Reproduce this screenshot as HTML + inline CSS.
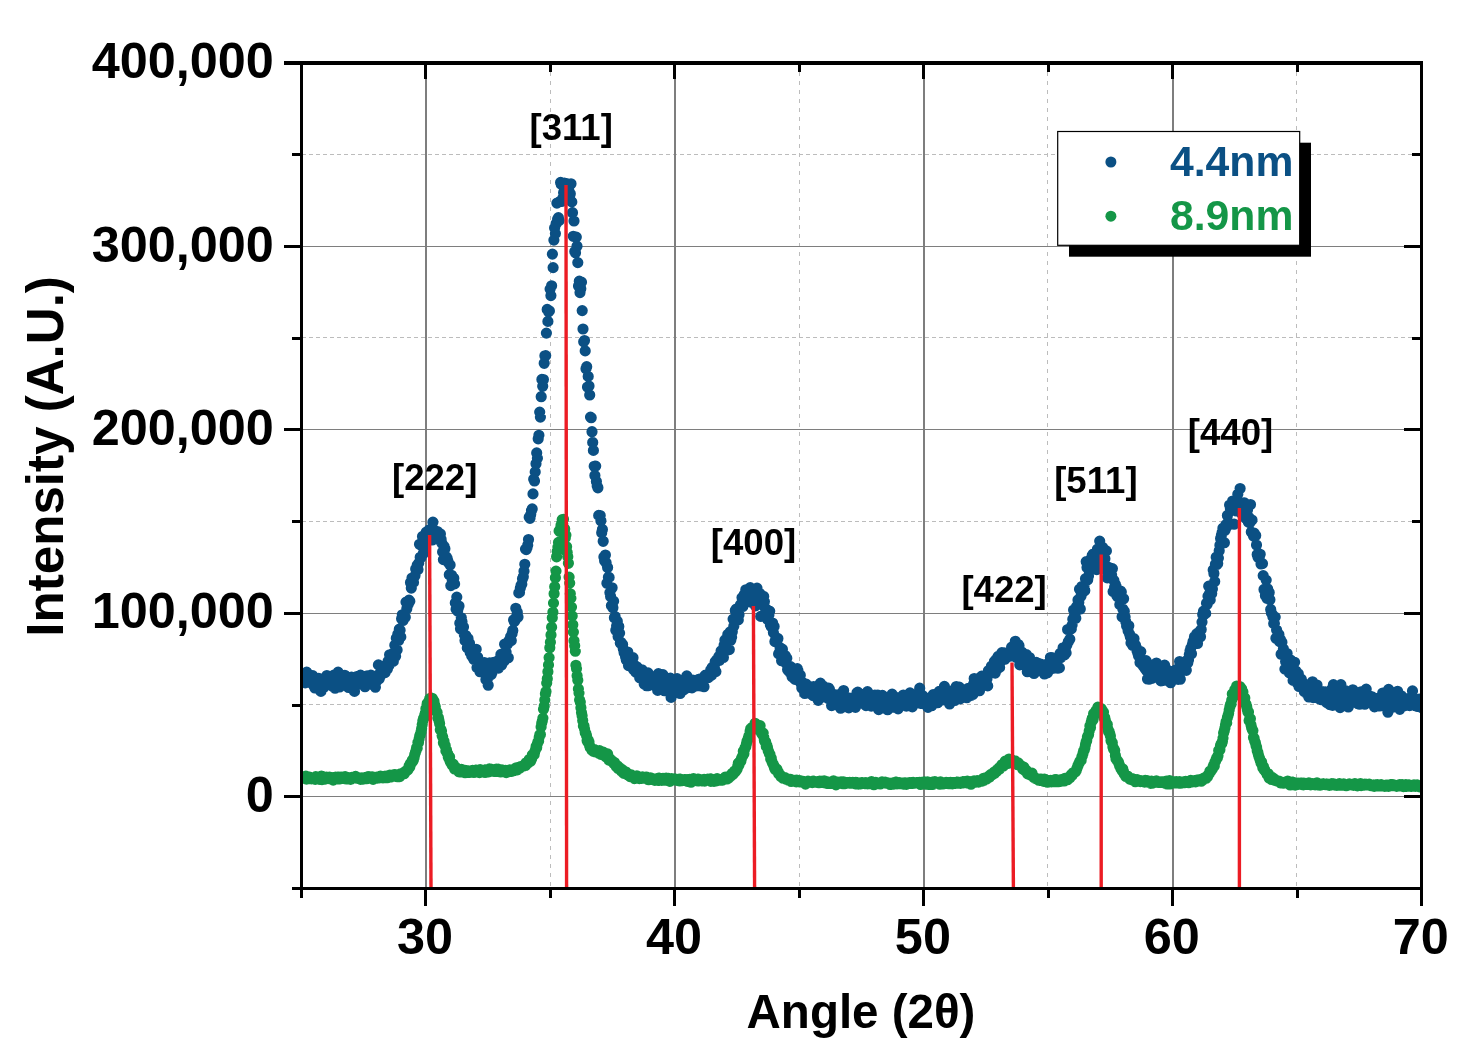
<!DOCTYPE html>
<html lang="en"><head><meta charset="utf-8"><title>XRD pattern</title>
<style>html,body{margin:0;padding:0;background:#fff;overflow:hidden}svg{display:block}</style>
</head><body>
<svg width="1469" height="1052" viewBox="0 0 1469 1052" font-family="'Liberation Sans', sans-serif" font-weight="bold">
<rect width="1469" height="1052" fill="#fff"/>
<defs><clipPath id="plot"><rect x="301.5" y="63.0" width="1121.0" height="825.5"/></clipPath></defs>
<g stroke="#bcbcbc" stroke-width="1" fill="none" shape-rendering="crispEdges">
<path stroke-dasharray="4 5" d="M550.5 63.0V888.5"/>
<path stroke-dasharray="4 5" d="M799.5 63.0V888.5"/>
<path stroke-dasharray="4 5" d="M1047.5 63.0V888.5"/>
<path stroke-dasharray="4 5" d="M1296.5 63.0V888.5"/>
<path stroke-dasharray="4 3" d="M301.5 704.5H1421.5"/>
<path stroke-dasharray="4 3" d="M301.5 521.5H1421.5"/>
<path stroke-dasharray="4 3" d="M301.5 337.5H1421.5"/>
<path stroke-dasharray="4 3" d="M301.5 154.5H1421.5"/>
</g>
<g stroke="#7e7e7e" fill="none" shape-rendering="crispEdges">
<path stroke-width="2" d="M426 63.0V888.5"/>
<path stroke-width="2" d="M675 63.0V888.5"/>
<path stroke-width="2" d="M924 63.0V888.5"/>
<path stroke-width="2" d="M1173 63.0V888.5"/>
<path stroke-width="1" d="M301.5 796.5H1421.5"/>
<path stroke-width="1" d="M301.5 613.5H1421.5"/>
<path stroke-width="1" d="M301.5 429.5H1421.5"/>
<path stroke-width="1" d="M301.5 246.5H1421.5"/>
</g>
<g fill="#000" shape-rendering="crispEdges">
<rect x="300" y="888.5" width="3" height="9.5"/>
<rect x="424" y="888.5" width="3" height="17.5"/>
<rect x="424" y="63.0" width="3" height="16.0"/>
<rect x="549" y="888.5" width="3" height="9.0"/>
<rect x="549" y="63.0" width="3" height="9.0"/>
<rect x="673" y="888.5" width="3" height="17.5"/>
<rect x="673" y="63.0" width="3" height="16.0"/>
<rect x="798" y="888.5" width="3" height="9.0"/>
<rect x="798" y="63.0" width="3" height="9.0"/>
<rect x="922" y="888.5" width="3" height="17.5"/>
<rect x="922" y="63.0" width="3" height="16.0"/>
<rect x="1047" y="888.5" width="3" height="9.0"/>
<rect x="1047" y="63.0" width="3" height="9.0"/>
<rect x="1171" y="888.5" width="3" height="17.5"/>
<rect x="1171" y="63.0" width="3" height="16.0"/>
<rect x="1296" y="888.5" width="3" height="9.0"/>
<rect x="1296" y="63.0" width="3" height="9.0"/>
<rect x="1420" y="888.5" width="3" height="17.5"/>
<rect x="292.0" y="887" width="9.5" height="3"/>
<rect x="284.0" y="795" width="17.5" height="3"/>
<rect x="1404.0" y="795" width="17.5" height="3"/>
<rect x="292.0" y="704" width="9.5" height="3"/>
<rect x="1412.0" y="704" width="9.5" height="3"/>
<rect x="284.0" y="612" width="17.5" height="3"/>
<rect x="1404.0" y="612" width="17.5" height="3"/>
<rect x="292.0" y="520" width="9.5" height="3"/>
<rect x="1412.0" y="520" width="9.5" height="3"/>
<rect x="284.0" y="428" width="17.5" height="3"/>
<rect x="1404.0" y="428" width="17.5" height="3"/>
<rect x="292.0" y="337" width="9.5" height="3"/>
<rect x="1412.0" y="337" width="9.5" height="3"/>
<rect x="284.0" y="245" width="17.5" height="3"/>
<rect x="1404.0" y="245" width="17.5" height="3"/>
<rect x="292.0" y="153" width="9.5" height="3"/>
<rect x="1412.0" y="153" width="9.5" height="3"/>
<rect x="284.0" y="61" width="17.5" height="4"/>
</g>
<g clip-path="url(#plot)" fill="none" stroke-linecap="round">
<path stroke="#0B5084" stroke-width="11.2" d="M301.5 677.7h0M302.2 676.4h0M303.0 679.2h0M303.7 682.1h0M304.5 680.2h0M305.2 682.8h0M306.0 677.9h0M306.7 672.1h0M307.5 680.7h0M308.2 681.4h0M309.0 676.3h0M309.7 677.0h0M310.5 678.2h0M311.2 683.1h0M312.0 679.0h0M312.7 675.7h0M313.4 685.3h0M314.2 681.2h0M314.9 688.0h0M315.7 685.2h0M316.4 687.9h0M317.2 680.5h0M317.9 685.4h0M318.7 678.3h0M319.4 678.9h0M320.2 680.6h0M320.9 691.4h0M321.7 682.3h0M322.4 680.2h0M323.2 679.5h0M323.9 687.2h0M324.6 682.4h0M325.4 684.7h0M326.1 684.0h0M326.9 675.5h0M327.6 684.2h0M328.4 680.7h0M329.1 676.5h0M329.9 683.3h0M330.6 681.2h0M331.4 680.3h0M332.1 680.6h0M332.9 686.6h0M333.6 680.6h0M334.4 674.8h0M335.1 688.2h0M335.8 677.2h0M336.6 680.7h0M337.3 684.3h0M338.1 672.2h0M338.8 677.9h0M339.6 687.0h0M340.3 681.2h0M341.1 678.9h0M341.8 682.5h0M342.6 678.6h0M343.3 682.1h0M344.1 678.8h0M344.8 675.3h0M345.6 685.0h0M346.3 681.0h0M347.0 684.1h0M347.8 681.5h0M348.5 687.5h0M349.3 684.8h0M350.0 683.1h0M350.8 678.1h0M351.5 677.0h0M352.3 688.3h0M353.0 685.9h0M353.8 679.3h0M354.5 691.4h0M355.3 684.4h0M356.0 682.7h0M356.8 676.5h0M357.5 679.1h0M358.2 683.7h0M359.0 683.9h0M359.7 683.3h0M360.5 675.1h0M361.2 684.0h0M362.0 683.4h0M362.7 680.3h0M363.5 682.4h0M364.2 682.6h0M365.0 686.7h0M365.7 681.5h0M366.5 683.4h0M367.2 675.8h0M368.0 677.9h0M368.7 680.9h0M369.4 677.4h0M370.2 681.8h0M370.9 675.1h0M371.7 679.7h0M372.4 676.6h0M373.2 685.0h0M373.9 677.0h0M374.7 686.0h0M375.4 687.2h0M376.2 678.6h0M376.9 680.9h0M377.7 675.3h0M378.4 664.9h0M379.2 678.7h0M379.9 677.0h0M380.6 672.3h0M381.4 670.1h0M382.1 672.5h0M382.9 671.7h0M383.6 666.3h0M384.4 666.2h0M385.1 672.6h0M385.9 666.8h0M386.6 665.0h0M387.4 669.1h0M388.1 661.3h0M388.9 665.4h0M389.6 654.8h0M390.4 657.1h0M391.1 656.0h0M391.8 657.7h0M392.6 653.5h0M393.3 661.4h0M394.1 655.0h0M394.8 645.2h0M395.6 656.2h0M396.3 638.3h0M397.1 649.9h0M397.8 634.2h0M398.6 640.5h0M399.3 629.2h0M400.1 630.2h0M400.8 636.9h0M401.6 618.7h0M402.3 614.8h0M403.0 620.5h0M403.8 618.9h0M404.5 615.4h0M405.3 617.2h0M406.0 602.1h0M406.8 608.8h0M407.5 602.9h0M408.3 604.3h0M409.0 600.2h0M409.8 601.2h0M410.5 582.5h0M411.3 588.1h0M412.0 578.0h0M412.8 580.9h0M413.5 582.4h0M414.2 577.0h0M415.0 575.6h0M415.7 569.0h0M416.5 568.6h0M417.2 565.3h0M418.0 569.6h0M418.7 563.2h0M419.5 544.3h0M420.2 557.3h0M421.0 557.5h0M421.7 545.8h0M422.5 536.4h0M423.2 553.8h0M424.0 543.4h0M424.7 544.6h0M425.4 550.7h0M426.2 532.1h0M426.9 536.0h0M427.7 534.2h0M428.4 539.0h0M429.2 529.8h0M429.9 536.0h0M430.7 532.8h0M431.4 539.3h0M432.2 540.0h0M432.9 522.2h0M433.7 535.4h0M434.4 530.3h0M435.2 533.1h0M435.9 536.8h0M436.6 538.2h0M437.4 531.5h0M438.1 539.2h0M438.9 539.6h0M439.6 540.1h0M440.4 533.9h0M441.1 539.2h0M441.9 543.3h0M442.6 551.9h0M443.4 559.6h0M444.1 546.4h0M444.9 548.8h0M445.6 558.7h0M446.4 556.9h0M447.1 558.1h0M447.8 560.6h0M448.6 562.9h0M449.3 574.7h0M450.1 565.0h0M450.8 585.6h0M451.6 575.3h0M452.3 580.7h0M453.1 581.4h0M453.8 578.3h0M454.6 583.9h0M455.3 602.9h0M456.1 609.2h0M456.8 597.1h0M457.6 611.0h0M458.3 608.0h0M459.0 606.0h0M459.8 623.3h0M460.5 628.7h0M461.3 617.8h0M462.0 621.8h0M462.8 626.1h0M463.5 627.0h0M464.3 634.5h0M465.0 640.5h0M465.8 635.5h0M466.5 642.1h0M467.3 647.9h0M468.0 638.5h0M468.8 643.6h0M469.5 643.1h0M470.2 652.4h0M471.0 652.4h0M471.7 655.9h0M472.5 657.0h0M473.2 653.0h0M474.0 659.5h0M474.7 655.1h0M475.5 656.5h0M476.2 649.3h0M477.0 667.6h0M477.7 657.3h0M478.5 663.2h0M479.2 663.8h0M480.0 671.7h0M480.7 667.6h0M481.4 662.4h0M482.2 667.1h0M482.9 666.9h0M483.7 669.2h0M484.4 662.6h0M485.2 668.7h0M485.9 679.6h0M486.7 672.5h0M487.4 678.9h0M488.2 685.2h0M488.9 672.0h0M489.7 662.8h0M490.4 668.9h0M491.2 674.6h0M491.9 673.1h0M492.6 662.7h0M493.4 667.0h0M494.1 667.1h0M494.9 667.0h0M495.6 665.9h0M496.4 661.5h0M497.1 661.9h0M497.9 662.8h0M498.6 668.1h0M499.4 659.5h0M500.1 664.4h0M500.9 654.4h0M501.6 665.0h0M502.4 658.1h0M503.1 656.1h0M503.8 661.4h0M504.6 644.2h0M505.3 643.9h0M506.1 652.1h0M506.8 643.9h0M507.6 644.0h0M508.3 657.8h0M509.1 640.5h0M509.8 639.9h0M510.6 636.8h0M511.3 640.6h0M512.1 633.6h0M512.8 630.4h0M513.6 619.9h0M514.3 621.6h0M515.0 620.4h0M515.8 608.3h0M516.5 616.8h0M517.3 612.3h0M518.0 617.0h0M518.8 592.9h0M519.5 592.4h0M520.3 588.3h0M521.0 585.4h0M521.8 584.2h0M522.5 578.7h0M523.3 576.7h0M524.0 571.3h0M524.8 564.3h0M525.5 549.1h0M526.2 549.6h0M527.0 547.8h0M527.7 545.3h0M528.5 539.5h0M529.2 517.3h0M530.0 518.3h0M530.7 514.6h0M531.5 510.5h0M532.2 508.9h0M533.0 493.9h0M533.7 479.2h0M534.5 481.0h0M535.2 471.9h0M536.0 463.8h0M536.7 452.9h0M537.4 458.2h0M538.2 438.8h0M538.9 435.3h0M539.7 412.1h0M540.4 417.1h0M541.2 396.7h0M541.9 379.4h0M542.7 386.2h0M543.4 379.5h0M544.2 363.3h0M544.9 355.8h0M545.7 355.6h0M546.4 333.1h0M547.2 309.4h0M547.9 321.4h0M548.6 311.8h0M549.4 310.9h0M550.1 289.1h0M550.9 295.6h0M551.6 285.8h0M552.4 254.1h0M553.1 267.6h0M553.9 240.1h0M554.6 228.0h0M555.4 233.6h0M556.1 223.8h0M556.9 203.1h0M557.6 219.1h0M558.4 217.7h0M559.1 220.6h0M559.8 201.5h0M560.6 182.4h0M561.3 184.4h0M562.1 201.4h0M562.8 198.2h0M563.6 192.8h0M564.3 183.2h0M565.1 188.0h0M565.8 183.6h0M566.6 183.5h0M567.3 191.1h0M568.1 190.3h0M568.8 190.2h0M569.6 196.3h0M570.3 193.8h0M571.0 183.8h0M571.8 201.9h0M572.5 212.7h0M573.3 236.3h0M574.0 221.0h0M574.8 251.4h0M575.5 252.7h0M576.3 237.1h0M577.0 246.2h0M577.8 262.6h0M578.5 286.0h0M579.3 281.2h0M580.0 292.6h0M580.8 288.7h0M581.5 282.2h0M582.2 310.6h0M583.0 329.0h0M583.7 341.7h0M584.5 340.5h0M585.2 350.9h0M586.0 368.8h0M586.7 366.7h0M587.5 387.0h0M588.2 376.4h0M589.0 386.0h0M589.7 395.0h0M590.5 417.1h0M591.2 417.7h0M592.0 431.7h0M592.7 442.4h0M593.4 450.4h0M594.2 466.3h0M594.9 475.5h0M595.7 466.1h0M596.4 481.5h0M597.2 486.1h0M597.9 487.8h0M598.7 515.4h0M599.4 515.5h0M600.2 515.5h0M600.9 520.8h0M601.7 532.8h0M602.4 529.4h0M603.2 541.3h0M603.9 557.0h0M604.6 560.8h0M605.4 555.0h0M606.1 562.7h0M606.9 583.2h0M607.6 567.5h0M608.4 577.2h0M609.1 577.4h0M609.9 592.6h0M610.6 596.5h0M611.4 605.6h0M612.1 587.8h0M612.9 607.8h0M613.6 601.2h0M614.4 617.8h0M615.1 616.5h0M615.8 630.2h0M616.6 626.0h0M617.3 621.3h0M618.1 636.6h0M618.8 626.5h0M619.6 633.1h0M620.3 643.1h0M621.1 642.5h0M621.8 644.5h0M622.6 644.4h0M623.3 649.0h0M624.1 652.5h0M624.8 651.6h0M625.6 657.0h0M626.3 660.0h0M627.0 655.2h0M627.8 652.0h0M628.5 665.6h0M629.3 659.2h0M630.0 663.8h0M630.8 666.6h0M631.5 658.7h0M632.3 666.6h0M633.0 657.7h0M633.8 669.9h0M634.5 665.1h0M635.3 669.0h0M636.0 672.4h0M636.8 666.8h0M637.5 671.1h0M638.2 668.2h0M639.0 672.0h0M639.7 677.7h0M640.5 673.6h0M641.2 673.5h0M642.0 669.8h0M642.7 679.2h0M643.5 675.6h0M644.2 684.0h0M645.0 673.3h0M645.7 681.9h0M646.5 685.7h0M647.2 678.0h0M648.0 672.9h0M648.7 685.6h0M649.4 683.9h0M650.2 682.6h0M650.9 684.8h0M651.7 678.1h0M652.4 683.9h0M653.2 683.8h0M653.9 678.0h0M654.7 684.5h0M655.4 679.3h0M656.2 686.0h0M656.9 687.3h0M657.7 690.4h0M658.4 673.7h0M659.2 683.9h0M659.9 681.5h0M660.6 682.9h0M661.4 682.2h0M662.1 682.9h0M662.9 674.6h0M663.6 688.2h0M664.4 690.7h0M665.1 688.4h0M665.9 690.0h0M666.6 680.6h0M667.4 680.4h0M668.1 688.6h0M668.9 690.7h0M669.6 686.0h0M670.4 678.2h0M671.1 697.4h0M671.8 682.3h0M672.6 689.6h0M673.3 680.1h0M674.1 689.7h0M674.8 686.2h0M675.6 691.7h0M676.3 689.4h0M677.1 678.7h0M677.8 681.2h0M678.6 686.8h0M679.3 688.9h0M680.1 693.5h0M680.8 686.7h0M681.6 685.0h0M682.3 685.2h0M683.0 685.2h0M683.8 689.8h0M684.5 684.9h0M685.3 684.7h0M686.0 678.6h0M686.8 675.9h0M687.5 684.8h0M688.3 687.6h0M689.0 684.2h0M689.8 686.5h0M690.5 687.0h0M691.3 683.6h0M692.0 687.9h0M692.8 680.2h0M693.5 683.2h0M694.2 681.3h0M695.0 683.0h0M695.7 685.2h0M696.5 685.9h0M697.2 682.3h0M698.0 683.3h0M698.7 679.3h0M699.5 680.0h0M700.2 685.9h0M701.0 678.8h0M701.7 684.9h0M702.5 681.0h0M703.2 679.0h0M704.0 686.7h0M704.7 676.0h0M705.4 675.1h0M706.2 675.9h0M706.9 676.4h0M707.7 675.5h0M708.4 677.6h0M709.2 673.5h0M709.9 674.0h0M710.7 670.0h0M711.4 675.4h0M712.2 667.5h0M712.9 666.9h0M713.7 667.3h0M714.4 667.7h0M715.2 661.7h0M715.9 671.6h0M716.6 659.9h0M717.4 659.7h0M718.1 658.2h0M718.9 656.4h0M719.6 660.3h0M720.4 656.9h0M721.1 650.9h0M721.9 650.5h0M722.6 650.1h0M723.4 657.5h0M724.1 645.2h0M724.9 640.2h0M725.6 639.4h0M726.4 641.7h0M727.1 649.6h0M727.8 634.4h0M728.6 638.4h0M729.3 649.6h0M730.1 631.9h0M730.8 640.2h0M731.6 637.3h0M732.3 631.7h0M733.1 619.1h0M733.8 626.3h0M734.6 620.7h0M735.3 610.4h0M736.1 609.2h0M736.8 617.0h0M737.6 615.8h0M738.3 619.9h0M739.0 614.7h0M739.8 606.3h0M740.5 604.6h0M741.3 604.6h0M742.0 597.6h0M742.8 606.5h0M743.5 600.7h0M744.3 594.5h0M745.0 594.0h0M745.8 589.8h0M746.5 592.7h0M747.3 596.0h0M748.0 591.0h0M748.8 598.6h0M749.5 601.8h0M750.2 587.7h0M751.0 591.3h0M751.7 588.9h0M752.5 601.2h0M753.2 593.1h0M754.0 594.8h0M754.7 596.8h0M755.5 605.9h0M756.2 594.9h0M757.0 588.2h0M757.7 592.3h0M758.5 599.4h0M759.2 597.1h0M760.0 593.8h0M760.7 616.4h0M761.4 602.1h0M762.2 599.7h0M762.9 600.6h0M763.7 596.4h0M764.4 601.6h0M765.2 608.3h0M765.9 610.4h0M766.7 609.5h0M767.4 619.2h0M768.2 618.3h0M768.9 615.0h0M769.7 611.1h0M770.4 625.1h0M771.2 626.6h0M771.9 627.3h0M772.6 623.0h0M773.4 632.6h0M774.1 626.4h0M774.9 641.6h0M775.6 639.4h0M776.4 641.4h0M777.1 638.0h0M777.9 638.5h0M778.6 653.9h0M779.4 652.5h0M780.1 647.7h0M780.9 654.6h0M781.6 660.7h0M782.4 649.2h0M783.1 653.7h0M783.8 655.2h0M784.6 661.7h0M785.3 655.6h0M786.1 663.4h0M786.8 658.2h0M787.6 669.4h0M788.3 670.5h0M789.1 666.6h0M789.8 672.2h0M790.6 666.7h0M791.3 669.9h0M792.1 676.7h0M792.8 673.0h0M793.6 676.1h0M794.3 671.1h0M795.0 679.4h0M795.8 679.4h0M796.5 672.6h0M797.3 668.7h0M798.0 670.7h0M798.8 680.4h0M799.5 680.5h0M800.3 675.2h0M801.0 683.5h0M801.8 688.1h0M802.5 683.8h0M803.3 682.9h0M804.0 689.3h0M804.8 693.5h0M805.5 693.1h0M806.2 684.2h0M807.0 691.1h0M807.7 688.8h0M808.5 687.7h0M809.2 686.4h0M810.0 691.0h0M810.7 687.8h0M811.5 694.3h0M812.2 692.4h0M813.0 695.6h0M813.7 686.5h0M814.5 691.9h0M815.2 695.4h0M816.0 694.0h0M816.7 693.7h0M817.4 690.0h0M818.2 700.3h0M818.9 698.1h0M819.7 695.5h0M820.4 683.1h0M821.2 690.2h0M821.9 695.0h0M822.7 691.7h0M823.4 686.1h0M824.2 696.2h0M824.9 697.0h0M825.7 690.4h0M826.4 693.6h0M827.2 693.1h0M827.9 698.3h0M828.6 688.0h0M829.4 689.1h0M830.1 694.2h0M830.9 693.8h0M831.6 705.6h0M832.4 694.3h0M833.1 698.0h0M833.9 695.5h0M834.6 694.6h0M835.4 699.1h0M836.1 704.9h0M836.9 696.3h0M837.6 701.1h0M838.4 699.5h0M839.1 700.8h0M839.8 699.8h0M840.6 708.2h0M841.3 693.4h0M842.1 697.6h0M842.8 694.0h0M843.6 690.5h0M844.3 698.8h0M845.1 706.7h0M845.8 702.9h0M846.6 704.3h0M847.3 701.4h0M848.1 699.1h0M848.8 707.9h0M849.6 698.1h0M850.3 706.0h0M851.0 698.5h0M851.8 700.3h0M852.5 701.2h0M853.3 700.3h0M854.0 702.3h0M854.8 702.7h0M855.5 707.3h0M856.3 700.4h0M857.0 692.6h0M857.8 692.1h0M858.5 694.9h0M859.3 697.6h0M860.0 703.4h0M860.8 694.6h0M861.5 700.9h0M862.2 701.1h0M863.0 702.0h0M863.7 700.5h0M864.5 702.8h0M865.2 701.3h0M866.0 705.6h0M866.7 702.7h0M867.5 691.6h0M868.2 701.5h0M869.0 702.3h0M869.7 699.1h0M870.5 698.4h0M871.2 706.1h0M872.0 702.3h0M872.7 697.7h0M873.4 700.4h0M874.2 701.1h0M874.9 695.1h0M875.7 704.4h0M876.4 701.2h0M877.2 703.7h0M877.9 695.2h0M878.7 709.6h0M879.4 704.2h0M880.2 703.6h0M880.9 698.6h0M881.7 698.8h0M882.4 695.4h0M883.2 707.8h0M883.9 698.1h0M884.6 702.4h0M885.4 703.9h0M886.1 698.9h0M886.9 704.9h0M887.6 709.7h0M888.4 702.6h0M889.1 707.2h0M889.9 703.7h0M890.6 699.3h0M891.4 699.5h0M892.1 694.2h0M892.9 701.6h0M893.6 707.2h0M894.4 703.9h0M895.1 704.5h0M895.8 705.7h0M896.6 698.8h0M897.3 703.2h0M898.1 708.8h0M898.8 697.5h0M899.6 700.9h0M900.3 698.9h0M901.1 699.9h0M901.8 697.6h0M902.6 700.1h0M903.3 695.0h0M904.1 698.4h0M904.8 698.4h0M905.6 698.3h0M906.3 706.1h0M907.0 700.7h0M907.8 701.0h0M908.5 699.0h0M909.3 705.5h0M910.0 692.9h0M910.8 699.3h0M911.5 704.8h0M912.3 706.8h0M913.0 700.8h0M913.8 699.9h0M914.5 702.5h0M915.3 699.0h0M916.0 702.1h0M916.8 697.0h0M917.5 702.3h0M918.2 699.4h0M919.0 695.0h0M919.7 688.2h0M920.5 703.3h0M921.2 701.0h0M922.0 702.5h0M922.7 695.6h0M923.5 703.7h0M924.2 700.8h0M925.0 698.8h0M925.7 702.8h0M926.5 702.7h0M927.2 700.6h0M928.0 707.4h0M928.7 704.6h0M929.4 700.1h0M930.2 697.7h0M930.9 699.0h0M931.7 705.7h0M932.4 700.1h0M933.2 694.7h0M933.9 695.6h0M934.7 698.3h0M935.4 701.7h0M936.2 695.1h0M936.9 700.2h0M937.7 702.7h0M938.4 701.1h0M939.2 691.4h0M939.9 696.6h0M940.6 692.5h0M941.4 699.4h0M942.1 693.3h0M942.9 699.8h0M943.6 697.8h0M944.4 686.4h0M945.1 693.7h0M945.9 699.1h0M946.6 697.2h0M947.4 695.4h0M948.1 691.5h0M948.9 698.7h0M949.6 704.0h0M950.4 697.6h0M951.1 696.3h0M951.8 695.8h0M952.6 690.5h0M953.3 694.7h0M954.1 692.4h0M954.8 700.5h0M955.6 691.9h0M956.3 686.5h0M957.1 692.1h0M957.8 694.2h0M958.6 694.4h0M959.3 687.2h0M960.1 698.8h0M960.8 695.1h0M961.6 692.4h0M962.3 691.0h0M963.0 695.9h0M963.8 692.4h0M964.5 694.7h0M965.3 692.7h0M966.0 693.6h0M966.8 697.7h0M967.5 692.5h0M968.3 688.3h0M969.0 696.0h0M969.8 692.5h0M970.5 688.1h0M971.3 695.4h0M972.0 689.4h0M972.8 694.5h0M973.5 684.3h0M974.2 678.5h0M975.0 679.3h0M975.7 688.8h0M976.5 683.9h0M977.2 686.1h0M978.0 685.6h0M978.7 678.4h0M979.5 690.7h0M980.2 679.2h0M981.0 683.6h0M981.7 676.1h0M982.5 681.0h0M983.2 684.1h0M984.0 678.9h0M984.7 676.0h0M985.4 678.4h0M986.2 675.4h0M986.9 679.2h0M987.7 685.9h0M988.4 670.7h0M989.2 670.7h0M989.9 672.4h0M990.7 671.8h0M991.4 666.2h0M992.2 672.4h0M992.9 672.6h0M993.7 669.2h0M994.4 661.5h0M995.2 673.1h0M995.9 659.6h0M996.6 667.6h0M997.4 669.0h0M998.1 656.4h0M998.9 662.3h0M999.6 667.4h0M1000.4 661.9h0M1001.1 654.7h0M1001.9 652.6h0M1002.6 660.0h0M1003.4 655.1h0M1004.1 652.9h0M1004.9 659.2h0M1005.6 653.6h0M1006.4 655.1h0M1007.1 657.2h0M1007.8 656.6h0M1008.6 653.4h0M1009.3 653.3h0M1010.1 656.1h0M1010.8 655.2h0M1011.6 647.1h0M1012.3 651.7h0M1013.1 648.2h0M1013.8 646.6h0M1014.6 649.8h0M1015.3 641.3h0M1016.1 657.4h0M1016.8 649.3h0M1017.6 655.3h0M1018.3 644.5h0M1019.0 645.7h0M1019.8 664.8h0M1020.5 660.2h0M1021.3 652.3h0M1022.0 652.2h0M1022.8 653.0h0M1023.5 657.7h0M1024.3 655.6h0M1025.0 655.2h0M1025.8 659.5h0M1026.5 654.6h0M1027.3 671.7h0M1028.0 657.9h0M1028.8 666.8h0M1029.5 657.5h0M1030.2 664.1h0M1031.0 667.9h0M1031.7 662.3h0M1032.5 669.2h0M1033.2 669.8h0M1034.0 673.5h0M1034.7 666.5h0M1035.5 664.5h0M1036.2 662.4h0M1037.0 668.5h0M1037.7 663.1h0M1038.5 668.4h0M1039.2 669.3h0M1040.0 666.3h0M1040.7 664.2h0M1041.4 671.1h0M1042.2 670.8h0M1042.9 670.4h0M1043.7 669.3h0M1044.4 674.0h0M1045.2 664.6h0M1045.9 671.3h0M1046.7 666.9h0M1047.4 672.9h0M1048.2 666.8h0M1048.9 666.3h0M1049.7 669.9h0M1050.4 657.5h0M1051.2 665.1h0M1051.9 657.6h0M1052.6 660.9h0M1053.4 668.2h0M1054.1 666.0h0M1054.9 661.1h0M1055.6 662.0h0M1056.4 661.1h0M1057.1 661.7h0M1057.9 668.2h0M1058.6 659.0h0M1059.4 667.9h0M1060.1 653.4h0M1060.9 657.6h0M1061.6 656.1h0M1062.4 652.0h0M1063.1 647.8h0M1063.8 655.0h0M1064.6 654.9h0M1065.3 649.6h0M1066.1 652.9h0M1066.8 645.3h0M1067.6 629.5h0M1068.3 641.7h0M1069.1 630.3h0M1069.8 639.2h0M1070.6 627.8h0M1071.3 628.9h0M1072.1 625.1h0M1072.8 619.2h0M1073.6 610.0h0M1074.3 616.4h0M1075.0 614.3h0M1075.8 618.2h0M1076.5 606.6h0M1077.3 608.9h0M1078.0 599.9h0M1078.8 602.5h0M1079.5 589.2h0M1080.3 609.0h0M1081.0 596.3h0M1081.8 586.5h0M1082.5 591.5h0M1083.3 591.7h0M1084.0 586.0h0M1084.8 590.5h0M1085.5 578.7h0M1086.2 561.6h0M1087.0 567.5h0M1087.7 579.7h0M1088.5 576.1h0M1089.2 571.1h0M1090.0 560.0h0M1090.7 570.0h0M1091.5 567.5h0M1092.2 555.5h0M1093.0 554.2h0M1093.7 561.0h0M1094.5 564.8h0M1095.2 566.6h0M1096.0 560.1h0M1096.7 569.6h0M1097.4 549.2h0M1098.2 558.0h0M1098.9 550.4h0M1099.7 541.1h0M1100.4 545.9h0M1101.2 561.7h0M1101.9 548.7h0M1102.7 547.4h0M1103.4 560.8h0M1104.2 563.2h0M1104.9 558.7h0M1105.7 569.8h0M1106.4 550.9h0M1107.2 577.9h0M1107.9 571.0h0M1108.6 567.3h0M1109.4 568.8h0M1110.1 568.3h0M1110.9 569.7h0M1111.6 574.9h0M1112.4 568.6h0M1113.1 591.6h0M1113.9 580.4h0M1114.6 587.3h0M1115.4 584.5h0M1116.1 586.4h0M1116.9 595.9h0M1117.6 596.8h0M1118.4 590.6h0M1119.1 595.9h0M1119.8 604.6h0M1120.6 591.0h0M1121.3 592.0h0M1122.1 616.8h0M1122.8 609.0h0M1123.6 598.7h0M1124.3 611.3h0M1125.1 617.0h0M1125.8 621.8h0M1126.6 626.1h0M1127.3 626.6h0M1128.1 630.7h0M1128.8 625.8h0M1129.6 634.3h0M1130.3 636.7h0M1131.0 642.9h0M1131.8 638.7h0M1132.5 645.2h0M1133.3 643.3h0M1134.0 638.7h0M1134.8 644.1h0M1135.5 645.1h0M1136.3 647.6h0M1137.0 650.8h0M1137.8 653.3h0M1138.5 655.8h0M1139.3 651.8h0M1140.0 662.5h0M1140.8 651.6h0M1141.5 659.5h0M1142.2 664.6h0M1143.0 664.5h0M1143.7 666.5h0M1144.5 663.4h0M1145.2 668.7h0M1146.0 660.6h0M1146.7 670.9h0M1147.5 679.0h0M1148.2 672.2h0M1149.0 679.2h0M1149.7 670.4h0M1150.5 665.7h0M1151.2 668.3h0M1152.0 678.4h0M1152.7 676.2h0M1153.4 664.6h0M1154.2 672.0h0M1154.9 673.9h0M1155.7 669.3h0M1156.4 663.0h0M1157.2 668.8h0M1157.9 674.5h0M1158.7 673.8h0M1159.4 672.7h0M1160.2 678.7h0M1160.9 680.9h0M1161.7 675.8h0M1162.4 680.6h0M1163.2 676.5h0M1163.9 675.8h0M1164.6 665.2h0M1165.4 680.2h0M1166.1 676.7h0M1166.9 676.7h0M1167.6 673.8h0M1168.4 670.7h0M1169.1 677.8h0M1169.9 679.1h0M1170.6 682.7h0M1171.4 679.1h0M1172.1 671.8h0M1172.9 673.8h0M1173.6 678.5h0M1174.4 675.0h0M1175.1 672.6h0M1175.8 669.9h0M1176.6 674.6h0M1177.3 672.4h0M1178.1 679.4h0M1178.8 675.6h0M1179.6 661.5h0M1180.3 679.2h0M1181.1 669.4h0M1181.8 665.9h0M1182.6 667.9h0M1183.3 669.1h0M1184.1 664.5h0M1184.8 663.2h0M1185.6 662.5h0M1186.3 670.3h0M1187.0 660.4h0M1187.8 662.7h0M1188.5 659.9h0M1189.3 654.6h0M1190.0 651.0h0M1190.8 648.1h0M1191.5 653.7h0M1192.3 644.7h0M1193.0 641.7h0M1193.8 640.1h0M1194.5 636.8h0M1195.3 643.0h0M1196.0 641.2h0M1196.8 633.8h0M1197.5 643.5h0M1198.2 632.8h0M1199.0 634.6h0M1199.7 631.4h0M1200.5 636.7h0M1201.2 629.5h0M1202.0 622.1h0M1202.7 614.4h0M1203.5 611.1h0M1204.2 614.6h0M1205.0 612.5h0M1205.7 613.4h0M1206.5 603.3h0M1207.2 604.3h0M1208.0 596.2h0M1208.7 586.2h0M1209.4 594.0h0M1210.2 599.9h0M1210.9 593.0h0M1211.7 593.6h0M1212.4 588.9h0M1213.2 569.9h0M1213.9 573.5h0M1214.7 581.5h0M1215.4 564.3h0M1216.2 557.2h0M1216.9 564.5h0M1217.7 563.5h0M1218.4 558.1h0M1219.2 550.8h0M1219.9 545.3h0M1220.6 538.5h0M1221.4 535.2h0M1222.1 532.4h0M1222.9 528.2h0M1223.6 530.2h0M1224.4 542.7h0M1225.1 530.3h0M1225.9 524.6h0M1226.6 527.0h0M1227.4 515.4h0M1228.1 522.2h0M1228.9 524.1h0M1229.6 505.0h0M1230.4 508.7h0M1231.1 510.2h0M1231.8 503.4h0M1232.6 501.0h0M1233.3 504.9h0M1234.1 524.2h0M1234.8 510.2h0M1235.6 507.8h0M1236.3 511.0h0M1237.1 501.9h0M1237.8 494.3h0M1238.6 506.6h0M1239.3 511.4h0M1240.1 488.5h0M1240.8 507.1h0M1241.6 513.5h0M1242.3 503.5h0M1243.0 503.1h0M1243.8 512.5h0M1244.5 502.9h0M1245.3 513.7h0M1246.0 518.5h0M1246.8 512.3h0M1247.5 509.9h0M1248.3 522.1h0M1249.0 517.4h0M1249.8 522.7h0M1250.5 504.5h0M1251.3 532.0h0M1252.0 520.0h0M1252.8 532.8h0M1253.5 536.1h0M1254.2 533.2h0M1255.0 535.0h0M1255.7 535.5h0M1256.5 545.0h0M1257.2 554.5h0M1258.0 557.2h0M1258.7 553.5h0M1259.5 556.3h0M1260.2 554.3h0M1261.0 564.0h0M1261.7 563.2h0M1262.5 563.6h0M1263.2 575.6h0M1264.0 589.4h0M1264.7 590.7h0M1265.4 595.5h0M1266.2 580.1h0M1266.9 598.3h0M1267.7 588.9h0M1268.4 596.0h0M1269.2 592.4h0M1269.9 599.8h0M1270.7 609.4h0M1271.4 613.0h0M1272.2 614.3h0M1272.9 616.7h0M1273.7 623.6h0M1274.4 623.6h0M1275.2 617.1h0M1275.9 638.3h0M1276.6 630.0h0M1277.4 639.0h0M1278.1 635.5h0M1278.9 634.4h0M1279.6 641.6h0M1280.4 639.5h0M1281.1 654.2h0M1281.9 642.2h0M1282.6 653.2h0M1283.4 648.9h0M1284.1 653.1h0M1284.9 669.1h0M1285.6 661.6h0M1286.4 658.5h0M1287.1 653.5h0M1287.8 661.5h0M1288.6 663.2h0M1289.3 672.9h0M1290.1 660.5h0M1290.8 660.1h0M1291.6 670.1h0M1292.3 672.5h0M1293.1 680.4h0M1293.8 669.7h0M1294.6 662.3h0M1295.3 672.7h0M1296.1 671.2h0M1296.8 675.6h0M1297.6 683.6h0M1298.3 673.8h0M1299.0 686.5h0M1299.8 682.6h0M1300.5 681.1h0M1301.3 679.1h0M1302.0 681.9h0M1302.8 682.7h0M1303.5 688.6h0M1304.3 691.6h0M1305.0 686.0h0M1305.8 690.0h0M1306.5 693.2h0M1307.3 693.5h0M1308.0 690.5h0M1308.8 697.0h0M1309.5 695.2h0M1310.2 696.9h0M1311.0 689.2h0M1311.7 688.6h0M1312.5 681.8h0M1313.2 697.6h0M1314.0 694.3h0M1314.7 687.6h0M1315.5 692.9h0M1316.2 693.6h0M1317.0 685.0h0M1317.7 694.2h0M1318.5 698.0h0M1319.2 698.9h0M1320.0 691.9h0M1320.7 692.3h0M1321.4 699.7h0M1322.2 698.3h0M1322.9 691.8h0M1323.7 691.8h0M1324.4 697.2h0M1325.2 691.9h0M1325.9 692.3h0M1326.7 702.6h0M1327.4 696.4h0M1328.2 693.4h0M1328.9 697.8h0M1329.7 704.6h0M1330.4 696.7h0M1331.2 692.4h0M1331.9 688.9h0M1332.6 705.3h0M1333.4 684.7h0M1334.1 700.9h0M1334.9 692.0h0M1335.6 690.9h0M1336.4 692.1h0M1337.1 695.8h0M1337.9 701.5h0M1338.6 693.9h0M1339.4 699.8h0M1340.1 707.6h0M1340.9 684.7h0M1341.6 693.9h0M1342.4 689.2h0M1343.1 701.0h0M1343.8 690.9h0M1344.6 690.5h0M1345.3 690.7h0M1346.1 697.5h0M1346.8 702.6h0M1347.6 698.3h0M1348.3 707.0h0M1349.1 704.9h0M1349.8 697.4h0M1350.6 702.0h0M1351.3 698.6h0M1352.1 698.4h0M1352.8 689.8h0M1353.6 692.6h0M1354.3 698.3h0M1355.0 693.1h0M1355.8 701.6h0M1356.5 699.8h0M1357.3 694.5h0M1358.0 703.7h0M1358.8 699.7h0M1359.5 704.2h0M1360.3 698.1h0M1361.0 691.8h0M1361.8 701.9h0M1362.5 697.8h0M1363.3 702.7h0M1364.0 703.8h0M1364.8 704.2h0M1365.5 692.9h0M1366.2 689.1h0M1367.0 697.1h0M1367.7 702.2h0M1368.5 696.3h0M1369.2 700.7h0M1370.0 696.0h0M1370.7 698.2h0M1371.5 698.3h0M1372.2 696.9h0M1373.0 702.0h0M1373.7 701.3h0M1374.5 706.9h0M1375.2 701.6h0M1376.0 705.8h0M1376.7 700.4h0M1377.4 703.9h0M1378.2 699.5h0M1378.9 698.1h0M1379.7 706.0h0M1380.4 703.5h0M1381.2 704.1h0M1381.9 697.0h0M1382.7 693.0h0M1383.4 696.7h0M1384.2 701.8h0M1384.9 694.2h0M1385.7 706.8h0M1386.4 694.1h0M1387.2 703.2h0M1387.9 712.2h0M1388.6 689.4h0M1389.4 694.0h0M1390.1 705.0h0M1390.9 700.0h0M1391.6 701.7h0M1392.4 700.4h0M1393.1 707.1h0M1393.9 703.7h0M1394.6 699.0h0M1395.4 700.0h0M1396.1 696.0h0M1396.9 700.7h0M1397.6 691.3h0M1398.4 704.1h0M1399.1 700.1h0M1399.8 709.3h0M1400.6 706.5h0M1401.3 695.8h0M1402.1 705.3h0M1402.8 699.2h0M1403.6 701.7h0M1404.3 705.9h0M1405.1 703.0h0M1405.8 703.7h0M1406.6 703.6h0M1407.3 698.5h0M1408.1 699.0h0M1408.8 704.1h0M1409.6 705.6h0M1410.3 700.6h0M1411.0 702.3h0M1411.8 697.6h0M1412.5 690.9h0M1413.3 698.5h0M1414.0 702.2h0M1414.8 702.8h0M1415.5 705.7h0M1416.3 705.9h0M1417.0 706.3h0M1417.8 703.9h0M1418.5 704.0h0M1419.3 699.2h0M1420.0 704.0h0M1420.8 703.2h0M1421.5 707.5h0"/>
<path stroke="#149647" stroke-width="11.2" d="M301.5 777.0h0M302.1 777.8h0M302.7 776.8h0M303.4 777.6h0M304.0 777.1h0M304.6 778.4h0M305.2 777.6h0M305.9 776.2h0M306.5 779.1h0M307.1 777.3h0M307.7 776.9h0M308.3 777.9h0M309.0 777.6h0M309.6 777.2h0M310.2 778.7h0M310.8 777.9h0M311.5 778.8h0M312.1 778.7h0M312.7 778.7h0M313.3 778.3h0M313.9 778.1h0M314.6 777.8h0M315.2 779.3h0M315.8 776.7h0M316.4 777.3h0M317.1 777.6h0M317.7 778.5h0M318.3 778.3h0M318.9 777.8h0M319.5 777.9h0M320.2 779.5h0M320.8 777.6h0M321.4 776.0h0M322.0 779.6h0M322.7 777.4h0M323.3 777.9h0M323.9 778.3h0M324.5 777.1h0M325.1 779.1h0M325.8 778.1h0M326.4 777.1h0M327.0 778.3h0M327.6 778.5h0M328.3 778.1h0M328.9 778.5h0M329.5 777.0h0M330.1 778.9h0M330.7 777.5h0M331.4 779.1h0M332.0 777.7h0M332.6 778.3h0M333.2 780.1h0M333.9 778.2h0M334.5 779.0h0M335.1 778.5h0M335.7 777.0h0M336.3 779.0h0M337.0 779.0h0M337.6 777.1h0M338.2 778.1h0M338.8 777.0h0M339.5 777.9h0M340.1 778.8h0M340.7 778.2h0M341.3 777.2h0M341.9 777.4h0M342.6 778.1h0M343.2 778.1h0M343.8 778.2h0M344.4 778.6h0M345.1 776.6h0M345.7 778.1h0M346.3 779.0h0M346.9 778.5h0M347.5 777.5h0M348.2 777.6h0M348.8 778.2h0M349.4 778.6h0M350.0 778.0h0M350.7 779.3h0M351.3 779.0h0M351.9 777.4h0M352.5 778.4h0M353.1 777.7h0M353.8 777.1h0M354.4 777.5h0M355.0 778.0h0M355.6 776.4h0M356.3 777.5h0M356.9 778.2h0M357.5 777.4h0M358.1 777.6h0M358.7 778.6h0M359.4 777.9h0M360.0 778.1h0M360.6 779.4h0M361.2 778.0h0M361.9 778.1h0M362.5 778.2h0M363.1 779.1h0M363.7 778.1h0M364.3 777.9h0M365.0 777.7h0M365.6 778.7h0M366.2 777.3h0M366.8 778.7h0M367.5 777.9h0M368.1 776.7h0M368.7 778.3h0M369.3 778.1h0M369.9 776.9h0M370.6 778.0h0M371.2 777.9h0M371.8 777.5h0M372.4 776.8h0M373.1 779.3h0M373.7 778.2h0M374.3 778.3h0M374.9 778.4h0M375.5 778.2h0M376.2 778.1h0M376.8 777.2h0M377.4 778.1h0M378.0 777.3h0M378.7 777.1h0M379.3 777.9h0M379.9 777.2h0M380.5 776.0h0M381.1 777.0h0M381.8 777.7h0M382.4 777.2h0M383.0 777.9h0M383.6 776.9h0M384.3 776.4h0M384.9 777.7h0M385.5 777.2h0M386.1 776.1h0M386.7 777.3h0M387.4 776.7h0M388.0 777.6h0M388.6 777.4h0M389.2 777.1h0M389.9 775.0h0M390.5 776.9h0M391.1 776.9h0M391.7 776.9h0M392.3 776.5h0M393.0 775.8h0M393.6 776.1h0M394.2 774.5h0M394.8 775.8h0M395.5 774.8h0M396.1 775.6h0M396.7 775.2h0M397.3 776.7h0M397.9 775.5h0M398.6 775.3h0M399.2 775.2h0M399.8 776.6h0M400.4 773.9h0M401.1 774.7h0M401.7 774.4h0M402.3 774.0h0M402.9 773.6h0M403.5 772.7h0M404.2 773.7h0M404.8 772.9h0M405.4 771.4h0M406.0 770.9h0M406.7 770.7h0M407.3 770.2h0M407.9 769.7h0M408.5 768.1h0M409.1 766.0h0M409.8 767.1h0M410.4 763.5h0M411.0 762.9h0M411.6 762.8h0M412.3 760.2h0M412.9 761.0h0M413.5 759.6h0M414.1 757.4h0M414.7 754.6h0M415.4 752.5h0M416.0 750.7h0M416.6 747.7h0M417.2 748.2h0M417.9 742.5h0M418.5 742.5h0M419.1 739.0h0M419.7 736.0h0M420.3 734.4h0M421.0 732.0h0M421.6 728.8h0M422.2 724.6h0M422.8 721.0h0M423.5 718.4h0M424.1 718.1h0M424.7 715.3h0M425.3 713.1h0M425.9 708.7h0M426.6 710.6h0M427.2 703.4h0M427.8 704.6h0M428.4 703.7h0M429.1 700.7h0M429.7 698.7h0M430.3 699.4h0M430.9 698.0h0M431.5 699.7h0M432.2 698.3h0M432.8 699.1h0M433.4 702.4h0M434.0 701.2h0M434.7 704.9h0M435.3 706.8h0M435.9 710.5h0M436.5 711.7h0M437.1 712.4h0M437.8 718.1h0M438.4 717.6h0M439.0 720.7h0M439.6 723.5h0M440.3 729.7h0M440.9 729.4h0M441.5 731.0h0M442.1 735.6h0M442.7 737.0h0M443.4 742.7h0M444.0 741.2h0M444.6 745.2h0M445.2 745.5h0M445.9 750.9h0M446.5 750.0h0M447.1 753.0h0M447.7 753.6h0M448.3 757.2h0M449.0 758.4h0M449.6 756.9h0M450.2 761.5h0M450.8 762.6h0M451.5 763.3h0M452.1 765.1h0M452.7 763.9h0M453.3 764.2h0M453.9 767.3h0M454.6 769.0h0M455.2 766.9h0M455.8 767.5h0M456.4 768.3h0M457.1 768.5h0M457.7 770.6h0M458.3 770.3h0M458.9 771.7h0M459.5 772.0h0M460.2 770.1h0M460.8 771.7h0M461.4 769.3h0M462.0 771.3h0M462.7 772.0h0M463.3 770.9h0M463.9 770.1h0M464.5 771.2h0M465.1 772.7h0M465.8 771.4h0M466.4 770.5h0M467.0 772.1h0M467.6 772.3h0M468.3 770.8h0M468.9 771.5h0M469.5 772.5h0M470.1 771.9h0M470.7 772.1h0M471.4 771.2h0M472.0 771.3h0M472.6 770.3h0M473.2 770.6h0M473.9 772.5h0M474.5 770.8h0M475.1 770.3h0M475.7 770.6h0M476.3 770.0h0M477.0 771.4h0M477.6 771.7h0M478.2 770.0h0M478.8 771.7h0M479.5 772.6h0M480.1 769.7h0M480.7 771.2h0M481.3 770.8h0M481.9 771.8h0M482.6 771.7h0M483.2 771.5h0M483.8 770.8h0M484.4 770.1h0M485.1 772.5h0M485.7 769.8h0M486.3 771.5h0M486.9 771.4h0M487.5 769.9h0M488.2 770.6h0M488.8 771.9h0M489.4 768.9h0M490.0 771.3h0M490.7 770.4h0M491.3 770.5h0M491.9 769.4h0M492.5 771.1h0M493.1 769.8h0M493.8 771.4h0M494.4 769.8h0M495.0 771.5h0M495.6 771.2h0M496.3 769.2h0M496.9 770.6h0M497.5 770.8h0M498.1 769.0h0M498.7 770.6h0M499.4 771.7h0M500.0 770.3h0M500.6 772.0h0M501.2 770.0h0M501.9 769.9h0M502.5 771.5h0M503.1 771.5h0M503.7 770.8h0M504.3 770.9h0M505.0 771.7h0M505.6 770.4h0M506.2 772.6h0M506.8 771.1h0M507.5 771.1h0M508.1 770.9h0M508.7 770.3h0M509.3 771.6h0M509.9 769.9h0M510.6 770.5h0M511.2 770.8h0M511.8 771.4h0M512.4 771.1h0M513.1 769.6h0M513.7 770.7h0M514.3 769.6h0M514.9 768.6h0M515.5 768.4h0M516.2 767.8h0M516.8 769.3h0M517.4 769.8h0M518.0 767.7h0M518.7 768.1h0M519.3 767.2h0M519.9 768.0h0M520.5 766.6h0M521.1 766.7h0M521.8 766.5h0M522.4 766.4h0M523.0 766.2h0M523.6 766.0h0M524.3 765.6h0M524.9 764.5h0M525.5 765.5h0M526.1 762.8h0M526.7 764.1h0M527.4 762.5h0M528.0 763.0h0M528.6 762.5h0M529.2 759.5h0M529.9 761.2h0M530.5 761.4h0M531.1 759.9h0M531.7 758.6h0M532.3 754.9h0M533.0 755.8h0M533.6 753.8h0M534.2 754.6h0M534.8 751.6h0M535.5 749.6h0M536.1 746.5h0M536.7 747.6h0M537.3 743.9h0M537.9 742.0h0M538.6 741.2h0M539.2 737.2h0M539.8 734.7h0M540.4 734.4h0M541.1 726.9h0M541.7 723.3h0M542.3 720.9h0M542.9 718.1h0M543.5 709.2h0M544.2 706.3h0M544.8 699.9h0M545.4 693.8h0M546.0 691.5h0M546.7 683.1h0M547.3 678.7h0M547.9 671.7h0M548.5 664.9h0M549.1 657.6h0M549.8 647.8h0M550.4 642.2h0M551.0 635.0h0M551.6 627.2h0M552.3 617.7h0M552.9 612.3h0M553.5 603.1h0M554.1 593.7h0M554.7 586.8h0M555.4 577.7h0M556.0 571.1h0M556.6 556.8h0M557.2 551.4h0M557.9 547.1h0M558.5 542.4h0M559.1 530.9h0M559.7 531.5h0M560.3 529.0h0M561.0 525.2h0M561.6 523.4h0M562.2 519.6h0M562.8 523.9h0M563.5 519.3h0M564.1 530.1h0M564.7 529.0h0M565.3 537.9h0M565.9 535.1h0M566.6 546.8h0M567.2 552.4h0M567.8 556.7h0M568.4 563.3h0M569.1 577.1h0M569.7 583.1h0M570.3 593.8h0M570.9 598.2h0M571.5 607.1h0M572.2 615.9h0M572.8 624.8h0M573.4 632.1h0M574.0 640.8h0M574.7 645.7h0M575.3 651.2h0M575.9 665.3h0M576.5 668.6h0M577.1 675.7h0M577.8 680.3h0M578.4 688.9h0M579.0 693.1h0M579.6 700.0h0M580.3 702.1h0M580.9 707.8h0M581.5 712.6h0M582.1 715.8h0M582.7 720.5h0M583.4 725.9h0M584.0 725.9h0M584.6 729.3h0M585.2 732.6h0M585.9 733.5h0M586.5 735.4h0M587.1 740.4h0M587.7 741.7h0M588.3 740.3h0M589.0 741.9h0M589.6 745.8h0M590.2 747.5h0M590.8 747.8h0M591.5 748.4h0M592.1 750.4h0M592.7 749.2h0M593.3 751.2h0M593.9 751.6h0M594.6 749.6h0M595.2 751.8h0M595.8 751.4h0M596.4 750.8h0M597.1 750.9h0M597.7 752.4h0M598.3 752.2h0M598.9 753.4h0M599.5 750.7h0M600.2 752.1h0M600.8 754.3h0M601.4 753.3h0M602.0 752.8h0M602.7 753.3h0M603.3 752.1h0M603.9 752.9h0M604.5 755.4h0M605.1 755.2h0M605.8 756.9h0M606.4 755.7h0M607.0 756.2h0M607.6 753.9h0M608.3 757.3h0M608.9 760.1h0M609.5 759.1h0M610.1 758.9h0M610.7 760.9h0M611.4 761.1h0M612.0 761.2h0M612.6 761.1h0M613.2 762.2h0M613.9 763.6h0M614.5 762.5h0M615.1 764.5h0M615.7 765.1h0M616.3 766.6h0M617.0 766.6h0M617.6 765.9h0M618.2 768.6h0M618.8 767.8h0M619.5 767.7h0M620.1 769.2h0M620.7 769.2h0M621.3 771.0h0M621.9 769.4h0M622.6 770.0h0M623.2 771.3h0M623.8 773.4h0M624.4 773.3h0M625.1 772.0h0M625.7 771.8h0M626.3 773.3h0M626.9 772.9h0M627.5 774.8h0M628.2 774.7h0M628.8 774.9h0M629.4 774.8h0M630.0 776.6h0M630.7 774.9h0M631.3 774.9h0M631.9 777.0h0M632.5 777.4h0M633.1 776.2h0M633.8 777.2h0M634.4 778.6h0M635.0 776.4h0M635.6 777.0h0M636.3 777.6h0M636.9 775.8h0M637.5 777.4h0M638.1 778.2h0M638.7 777.6h0M639.4 778.6h0M640.0 778.4h0M640.6 777.7h0M641.2 778.4h0M641.9 778.4h0M642.5 776.9h0M643.1 777.6h0M643.7 777.7h0M644.3 778.0h0M645.0 778.1h0M645.6 777.4h0M646.2 778.6h0M646.8 777.2h0M647.5 779.3h0M648.1 778.9h0M648.7 779.7h0M649.3 779.0h0M649.9 778.4h0M650.6 777.8h0M651.2 779.4h0M651.8 778.9h0M652.4 779.2h0M653.1 779.6h0M653.7 779.9h0M654.3 779.0h0M654.9 780.4h0M655.5 779.1h0M656.2 779.2h0M656.8 779.7h0M657.4 780.0h0M658.0 780.3h0M658.7 778.0h0M659.3 780.3h0M659.9 778.3h0M660.5 779.0h0M661.1 779.7h0M661.8 780.3h0M662.4 778.8h0M663.0 778.3h0M663.6 780.2h0M664.3 779.8h0M664.9 778.9h0M665.5 779.4h0M666.1 778.2h0M666.7 780.1h0M667.4 779.3h0M668.0 780.6h0M668.6 778.3h0M669.2 780.3h0M669.9 781.3h0M670.5 779.9h0M671.1 779.9h0M671.7 778.5h0M672.3 780.1h0M673.0 779.9h0M673.6 779.5h0M674.2 778.8h0M674.8 780.0h0M675.5 779.2h0M676.1 779.6h0M676.7 780.2h0M677.3 779.9h0M677.9 780.0h0M678.6 780.7h0M679.2 779.2h0M679.8 781.0h0M680.4 779.3h0M681.1 779.4h0M681.7 780.2h0M682.3 780.6h0M682.9 780.3h0M683.5 779.8h0M684.2 779.6h0M684.8 780.0h0M685.4 779.5h0M686.0 780.6h0M686.7 780.0h0M687.3 781.3h0M687.9 779.7h0M688.5 780.1h0M689.1 780.5h0M689.8 779.4h0M690.4 779.8h0M691.0 782.2h0M691.6 780.2h0M692.3 781.3h0M692.9 779.5h0M693.5 778.5h0M694.1 780.6h0M694.7 780.2h0M695.4 780.4h0M696.0 780.0h0M696.6 779.8h0M697.2 779.4h0M697.9 781.0h0M698.5 779.2h0M699.1 780.9h0M699.7 780.1h0M700.3 779.5h0M701.0 779.8h0M701.6 780.9h0M702.2 780.7h0M702.8 780.6h0M703.5 780.3h0M704.1 779.4h0M704.7 781.1h0M705.3 779.9h0M705.9 779.8h0M706.6 779.8h0M707.2 779.9h0M707.8 779.1h0M708.4 779.8h0M709.1 779.5h0M709.7 779.7h0M710.3 778.9h0M710.9 781.4h0M711.5 779.2h0M712.2 780.2h0M712.8 780.2h0M713.4 780.7h0M714.0 781.3h0M714.7 780.2h0M715.3 780.4h0M715.9 779.5h0M716.5 780.8h0M717.1 778.7h0M717.8 779.5h0M718.4 779.8h0M719.0 780.1h0M719.6 780.1h0M720.3 780.2h0M720.9 779.7h0M721.5 779.3h0M722.1 779.3h0M722.7 780.1h0M723.4 779.1h0M724.0 779.4h0M724.6 778.5h0M725.2 777.1h0M725.9 777.8h0M726.5 778.2h0M727.1 779.0h0M727.7 778.5h0M728.3 778.4h0M729.0 776.3h0M729.6 777.0h0M730.2 776.0h0M730.8 776.1h0M731.5 775.0h0M732.1 773.4h0M732.7 774.5h0M733.3 773.5h0M733.9 773.2h0M734.6 771.0h0M735.2 771.8h0M735.8 771.0h0M736.4 770.2h0M737.1 769.2h0M737.7 766.3h0M738.3 763.1h0M738.9 765.3h0M739.5 762.0h0M740.2 761.3h0M740.8 761.2h0M741.4 758.8h0M742.0 757.1h0M742.7 755.9h0M743.3 751.3h0M743.9 753.8h0M744.5 749.4h0M745.1 747.6h0M745.8 746.8h0M746.4 744.0h0M747.0 741.2h0M747.6 740.2h0M748.3 738.0h0M748.9 735.9h0M749.5 737.8h0M750.1 731.3h0M750.7 728.6h0M751.4 728.9h0M752.0 727.5h0M752.6 729.8h0M753.2 726.9h0M753.9 727.0h0M754.5 726.0h0M755.1 723.3h0M755.7 725.6h0M756.3 724.6h0M757.0 727.3h0M757.6 725.1h0M758.2 725.4h0M758.8 727.3h0M759.5 728.2h0M760.1 725.7h0M760.7 731.3h0M761.3 732.5h0M761.9 733.7h0M762.6 732.6h0M763.2 733.1h0M763.8 737.3h0M764.4 740.5h0M765.1 742.0h0M765.7 742.0h0M766.3 746.4h0M766.9 745.4h0M767.5 747.4h0M768.2 750.8h0M768.8 752.0h0M769.4 753.7h0M770.0 754.5h0M770.7 759.0h0M771.3 758.3h0M771.9 761.5h0M772.5 763.3h0M773.1 763.9h0M773.8 765.5h0M774.4 767.5h0M775.0 769.3h0M775.6 769.8h0M776.3 768.7h0M776.9 769.2h0M777.5 771.3h0M778.1 771.7h0M778.7 773.9h0M779.4 774.2h0M780.0 774.6h0M780.6 776.3h0M781.2 776.8h0M781.9 776.4h0M782.5 777.2h0M783.1 778.2h0M783.7 777.5h0M784.3 778.3h0M785.0 777.7h0M785.6 778.7h0M786.2 779.2h0M786.8 779.1h0M787.5 779.5h0M788.1 780.1h0M788.7 780.1h0M789.3 779.4h0M789.9 779.6h0M790.6 779.3h0M791.2 781.5h0M791.8 780.7h0M792.4 780.8h0M793.1 780.5h0M793.7 781.0h0M794.3 781.1h0M794.9 780.3h0M795.5 780.8h0M796.2 781.8h0M796.8 780.2h0M797.4 780.4h0M798.0 781.6h0M798.7 780.7h0M799.3 781.8h0M799.9 780.6h0M800.5 781.5h0M801.1 782.0h0M801.8 781.7h0M802.4 782.0h0M803.0 781.4h0M803.6 781.5h0M804.3 781.6h0M804.9 782.0h0M805.5 784.1h0M806.1 781.6h0M806.7 783.0h0M807.4 781.6h0M808.0 781.1h0M808.6 781.6h0M809.2 782.1h0M809.9 782.0h0M810.5 782.0h0M811.1 782.3h0M811.7 782.3h0M812.3 782.6h0M813.0 781.2h0M813.6 782.0h0M814.2 781.4h0M814.8 782.2h0M815.5 782.1h0M816.1 782.2h0M816.7 781.8h0M817.3 781.6h0M817.9 782.0h0M818.6 782.7h0M819.2 782.7h0M819.8 781.2h0M820.4 782.5h0M821.1 782.5h0M821.7 781.4h0M822.3 781.6h0M822.9 782.0h0M823.5 782.6h0M824.2 780.8h0M824.8 782.1h0M825.4 782.1h0M826.0 782.5h0M826.7 783.4h0M827.3 783.3h0M827.9 782.2h0M828.5 782.2h0M829.1 782.7h0M829.8 783.3h0M830.4 783.5h0M831.0 782.8h0M831.6 783.5h0M832.3 782.0h0M832.9 781.8h0M833.5 780.8h0M834.1 782.0h0M834.7 783.0h0M835.4 783.2h0M836.0 784.9h0M836.6 783.1h0M837.2 782.8h0M837.9 782.1h0M838.5 782.3h0M839.1 782.3h0M839.7 782.6h0M840.3 782.3h0M841.0 781.8h0M841.6 783.4h0M842.2 783.1h0M842.8 783.7h0M843.5 781.8h0M844.1 782.0h0M844.7 782.3h0M845.3 783.6h0M845.9 782.7h0M846.6 783.0h0M847.2 782.8h0M847.8 783.0h0M848.4 782.5h0M849.1 783.1h0M849.7 782.4h0M850.3 782.8h0M850.9 783.1h0M851.5 783.0h0M852.2 783.2h0M852.8 782.4h0M853.4 783.1h0M854.0 782.8h0M854.7 783.2h0M855.3 783.9h0M855.9 782.4h0M856.5 783.7h0M857.1 782.6h0M857.8 782.8h0M858.4 784.1h0M859.0 783.6h0M859.6 783.4h0M860.3 783.6h0M860.9 783.8h0M861.5 782.6h0M862.1 783.2h0M862.7 782.8h0M863.4 783.4h0M864.0 782.9h0M864.6 783.6h0M865.2 783.1h0M865.9 782.7h0M866.5 783.1h0M867.1 783.4h0M867.7 783.8h0M868.3 783.0h0M869.0 782.9h0M869.6 783.3h0M870.2 783.6h0M870.8 782.8h0M871.5 781.5h0M872.1 783.3h0M872.7 782.9h0M873.3 782.9h0M873.9 784.7h0M874.6 783.0h0M875.2 783.6h0M875.8 782.3h0M876.4 783.3h0M877.1 783.6h0M877.7 783.3h0M878.3 783.0h0M878.9 783.5h0M879.5 783.2h0M880.2 784.0h0M880.8 783.3h0M881.4 782.7h0M882.0 781.9h0M882.7 782.7h0M883.3 783.0h0M883.9 782.4h0M884.5 782.5h0M885.1 782.1h0M885.8 782.5h0M886.4 783.2h0M887.0 783.0h0M887.6 783.0h0M888.3 783.0h0M888.9 783.0h0M889.5 783.7h0M890.1 784.5h0M890.7 783.6h0M891.4 784.4h0M892.0 783.1h0M892.6 783.2h0M893.2 784.2h0M893.9 782.7h0M894.5 782.6h0M895.1 783.1h0M895.7 782.1h0M896.3 782.0h0M897.0 783.9h0M897.6 782.5h0M898.2 782.9h0M898.8 782.9h0M899.5 782.6h0M900.1 783.6h0M900.7 783.5h0M901.3 783.7h0M901.9 783.6h0M902.6 783.2h0M903.2 784.1h0M903.8 783.8h0M904.4 782.8h0M905.1 783.2h0M905.7 782.9h0M906.3 784.4h0M906.9 783.7h0M907.5 783.5h0M908.2 783.1h0M908.8 783.5h0M909.4 782.6h0M910.0 783.2h0M910.7 783.2h0M911.3 783.2h0M911.9 782.7h0M912.5 783.5h0M913.1 782.4h0M913.8 782.9h0M914.4 783.1h0M915.0 783.1h0M915.6 782.8h0M916.3 782.5h0M916.9 782.6h0M917.5 782.9h0M918.1 782.6h0M918.7 783.1h0M919.4 782.4h0M920.0 783.2h0M920.6 784.5h0M921.2 782.3h0M921.9 783.1h0M922.5 783.9h0M923.1 783.3h0M923.7 783.7h0M924.3 781.8h0M925.0 782.8h0M925.6 784.1h0M926.2 782.8h0M926.8 783.4h0M927.5 781.9h0M928.1 783.8h0M928.7 784.5h0M929.3 783.1h0M929.9 783.3h0M930.6 783.4h0M931.2 784.5h0M931.8 782.8h0M932.4 782.0h0M933.1 784.3h0M933.7 782.4h0M934.3 783.5h0M934.9 781.6h0M935.5 782.8h0M936.2 783.2h0M936.8 782.4h0M937.4 782.7h0M938.0 783.4h0M938.7 782.6h0M939.3 783.4h0M939.9 784.2h0M940.5 781.8h0M941.1 783.3h0M941.8 783.4h0M942.4 782.8h0M943.0 784.0h0M943.6 783.9h0M944.3 783.3h0M944.9 783.3h0M945.5 783.0h0M946.1 782.3h0M946.7 783.3h0M947.4 782.7h0M948.0 782.6h0M948.6 783.7h0M949.2 782.8h0M949.9 783.6h0M950.5 782.3h0M951.1 782.7h0M951.7 782.9h0M952.3 783.8h0M953.0 782.9h0M953.6 783.4h0M954.2 782.5h0M954.8 783.0h0M955.5 783.4h0M956.1 782.3h0M956.7 782.4h0M957.3 783.2h0M957.9 782.1h0M958.6 783.0h0M959.2 783.0h0M959.8 782.7h0M960.4 783.3h0M961.1 783.1h0M961.7 782.9h0M962.3 781.8h0M962.9 781.8h0M963.5 782.9h0M964.2 781.6h0M964.8 782.7h0M965.4 782.4h0M966.0 782.0h0M966.7 782.4h0M967.3 781.0h0M967.9 782.4h0M968.5 783.2h0M969.1 781.6h0M969.8 782.7h0M970.4 782.5h0M971.0 784.2h0M971.6 781.6h0M972.3 781.6h0M972.9 781.6h0M973.5 781.4h0M974.1 780.8h0M974.7 781.9h0M975.4 781.1h0M976.0 782.1h0M976.6 781.8h0M977.2 780.7h0M977.9 781.0h0M978.5 782.1h0M979.1 780.7h0M979.7 781.0h0M980.3 781.2h0M981.0 780.2h0M981.6 780.5h0M982.2 781.1h0M982.8 780.6h0M983.5 778.3h0M984.1 780.4h0M984.7 778.9h0M985.3 778.3h0M985.9 777.9h0M986.6 779.0h0M987.2 778.0h0M987.8 777.3h0M988.4 776.4h0M989.1 777.1h0M989.7 777.1h0M990.3 774.9h0M990.9 774.4h0M991.5 774.5h0M992.2 774.8h0M992.8 773.5h0M993.4 773.2h0M994.0 772.1h0M994.7 773.3h0M995.3 771.6h0M995.9 771.3h0M996.5 771.6h0M997.1 769.8h0M997.8 769.4h0M998.4 769.2h0M999.0 767.9h0M999.6 769.1h0M1000.3 767.2h0M1000.9 766.2h0M1001.5 765.8h0M1002.1 764.5h0M1002.7 766.2h0M1003.4 766.1h0M1004.0 763.9h0M1004.6 763.2h0M1005.2 761.2h0M1005.9 762.3h0M1006.5 763.5h0M1007.1 761.5h0M1007.7 762.9h0M1008.3 763.3h0M1009.0 759.0h0M1009.6 761.2h0M1010.2 760.7h0M1010.8 760.8h0M1011.5 759.6h0M1012.1 761.2h0M1012.7 760.4h0M1013.3 762.8h0M1013.9 763.4h0M1014.6 760.8h0M1015.2 761.0h0M1015.8 762.3h0M1016.4 763.0h0M1017.1 763.4h0M1017.7 764.7h0M1018.3 762.9h0M1018.9 764.3h0M1019.5 764.9h0M1020.2 765.6h0M1020.8 765.4h0M1021.4 766.5h0M1022.0 766.8h0M1022.7 769.1h0M1023.3 768.2h0M1023.9 767.2h0M1024.5 770.2h0M1025.1 770.4h0M1025.8 770.0h0M1026.4 770.5h0M1027.0 771.4h0M1027.6 773.8h0M1028.3 772.5h0M1028.9 774.4h0M1029.5 774.6h0M1030.1 773.9h0M1030.7 775.1h0M1031.4 774.6h0M1032.0 773.2h0M1032.6 775.5h0M1033.2 775.9h0M1033.9 777.5h0M1034.5 777.7h0M1035.1 778.3h0M1035.7 778.2h0M1036.3 778.9h0M1037.0 778.9h0M1037.6 778.8h0M1038.2 779.6h0M1038.8 780.2h0M1039.5 780.3h0M1040.1 779.2h0M1040.7 779.7h0M1041.3 779.2h0M1041.9 779.3h0M1042.6 780.4h0M1043.2 779.8h0M1043.8 781.4h0M1044.4 779.0h0M1045.1 779.8h0M1045.7 780.9h0M1046.3 781.6h0M1046.9 780.6h0M1047.5 782.2h0M1048.2 781.5h0M1048.8 780.5h0M1049.4 781.0h0M1050.0 781.4h0M1050.7 780.4h0M1051.3 781.8h0M1051.9 780.9h0M1052.5 781.4h0M1053.1 781.7h0M1053.8 780.8h0M1054.4 781.7h0M1055.0 779.7h0M1055.6 781.4h0M1056.3 779.6h0M1056.9 781.7h0M1057.5 780.5h0M1058.1 781.6h0M1058.7 781.7h0M1059.4 780.6h0M1060.0 780.1h0M1060.6 781.4h0M1061.2 779.6h0M1061.9 780.8h0M1062.5 780.1h0M1063.1 779.8h0M1063.7 779.4h0M1064.3 781.0h0M1065.0 778.3h0M1065.6 778.9h0M1066.2 779.3h0M1066.8 779.5h0M1067.5 779.7h0M1068.1 779.1h0M1068.7 777.3h0M1069.3 777.6h0M1069.9 777.7h0M1070.6 776.8h0M1071.2 774.6h0M1071.8 775.5h0M1072.4 775.1h0M1073.1 772.8h0M1073.7 772.7h0M1074.3 772.2h0M1074.9 771.9h0M1075.5 771.8h0M1076.2 770.4h0M1076.8 768.7h0M1077.4 767.2h0M1078.0 765.4h0M1078.7 763.9h0M1079.3 762.7h0M1079.9 761.2h0M1080.5 760.9h0M1081.1 760.4h0M1081.8 756.9h0M1082.4 755.6h0M1083.0 753.4h0M1083.6 751.0h0M1084.3 750.1h0M1084.9 747.9h0M1085.5 744.5h0M1086.1 742.0h0M1086.7 740.8h0M1087.4 737.0h0M1088.0 735.7h0M1088.6 734.6h0M1089.2 730.9h0M1089.9 726.0h0M1090.5 727.5h0M1091.1 722.7h0M1091.7 720.3h0M1092.3 718.1h0M1093.0 719.7h0M1093.6 713.7h0M1094.2 715.0h0M1094.8 714.1h0M1095.5 712.8h0M1096.1 710.4h0M1096.7 710.3h0M1097.3 710.0h0M1097.9 707.2h0M1098.6 710.2h0M1099.2 710.7h0M1099.8 707.9h0M1100.4 708.5h0M1101.1 708.5h0M1101.7 712.8h0M1102.3 710.5h0M1102.9 712.7h0M1103.5 712.1h0M1104.2 718.3h0M1104.8 717.8h0M1105.4 720.4h0M1106.0 724.3h0M1106.7 725.0h0M1107.3 724.5h0M1107.9 728.9h0M1108.5 731.5h0M1109.1 731.5h0M1109.8 733.7h0M1110.4 736.0h0M1111.0 740.5h0M1111.6 741.8h0M1112.3 742.7h0M1112.9 746.9h0M1113.5 749.1h0M1114.1 749.3h0M1114.7 750.5h0M1115.4 755.5h0M1116.0 758.9h0M1116.6 759.4h0M1117.2 760.6h0M1117.9 761.3h0M1118.5 762.1h0M1119.1 764.3h0M1119.7 766.2h0M1120.3 766.7h0M1121.0 768.9h0M1121.6 769.2h0M1122.2 770.8h0M1122.8 768.9h0M1123.5 771.5h0M1124.1 773.7h0M1124.7 774.6h0M1125.3 774.9h0M1125.9 776.5h0M1126.6 776.4h0M1127.2 776.9h0M1127.8 776.2h0M1128.4 777.6h0M1129.1 778.3h0M1129.7 779.1h0M1130.3 779.3h0M1130.9 778.8h0M1131.5 779.2h0M1132.2 778.5h0M1132.8 780.0h0M1133.4 779.0h0M1134.0 779.8h0M1134.7 780.1h0M1135.3 781.7h0M1135.9 781.3h0M1136.5 780.1h0M1137.1 779.7h0M1137.8 780.6h0M1138.4 780.4h0M1139.0 781.2h0M1139.6 781.3h0M1140.3 781.6h0M1140.9 780.5h0M1141.5 781.0h0M1142.1 781.5h0M1142.7 781.6h0M1143.4 781.1h0M1144.0 781.3h0M1144.6 782.1h0M1145.2 780.4h0M1145.9 781.4h0M1146.5 781.6h0M1147.1 780.7h0M1147.7 781.0h0M1148.3 781.8h0M1149.0 781.4h0M1149.6 782.5h0M1150.2 782.3h0M1150.8 783.4h0M1151.5 781.1h0M1152.1 783.2h0M1152.7 781.5h0M1153.3 782.5h0M1153.9 782.6h0M1154.6 782.1h0M1155.2 781.9h0M1155.8 781.7h0M1156.4 780.9h0M1157.1 781.9h0M1157.7 781.5h0M1158.3 782.5h0M1158.9 781.7h0M1159.5 782.1h0M1160.2 782.5h0M1160.8 782.2h0M1161.4 782.2h0M1162.0 782.1h0M1162.7 781.9h0M1163.3 782.6h0M1163.9 782.7h0M1164.5 781.7h0M1165.1 783.4h0M1165.8 782.7h0M1166.4 781.2h0M1167.0 784.0h0M1167.6 782.7h0M1168.3 781.8h0M1168.9 783.4h0M1169.5 780.6h0M1170.1 784.0h0M1170.7 781.3h0M1171.4 781.3h0M1172.0 781.7h0M1172.6 782.4h0M1173.2 782.0h0M1173.9 782.9h0M1174.5 781.8h0M1175.1 783.0h0M1175.7 782.4h0M1176.3 781.6h0M1177.0 783.0h0M1177.6 782.5h0M1178.2 782.1h0M1178.8 783.1h0M1179.5 781.5h0M1180.1 782.0h0M1180.7 783.2h0M1181.3 782.2h0M1181.9 782.7h0M1182.6 782.6h0M1183.2 782.1h0M1183.8 782.6h0M1184.4 781.5h0M1185.1 782.6h0M1185.7 781.4h0M1186.3 782.1h0M1186.9 781.5h0M1187.5 782.4h0M1188.2 782.3h0M1188.8 782.7h0M1189.4 781.5h0M1190.0 781.2h0M1190.7 780.4h0M1191.3 780.9h0M1191.9 781.5h0M1192.5 781.8h0M1193.1 781.3h0M1193.8 781.5h0M1194.4 780.5h0M1195.0 780.7h0M1195.6 781.8h0M1196.3 781.6h0M1196.9 780.1h0M1197.5 780.7h0M1198.1 781.0h0M1198.7 779.8h0M1199.4 780.8h0M1200.0 780.5h0M1200.6 780.4h0M1201.2 781.2h0M1201.9 779.0h0M1202.5 780.2h0M1203.1 779.4h0M1203.7 779.2h0M1204.3 777.8h0M1205.0 777.9h0M1205.6 777.4h0M1206.2 778.2h0M1206.8 776.4h0M1207.5 776.9h0M1208.1 774.9h0M1208.7 774.1h0M1209.3 773.6h0M1209.9 771.1h0M1210.6 771.4h0M1211.2 770.4h0M1211.8 769.7h0M1212.4 768.9h0M1213.1 766.6h0M1213.7 765.1h0M1214.3 766.0h0M1214.9 762.3h0M1215.5 761.2h0M1216.2 759.1h0M1216.8 757.8h0M1217.4 757.8h0M1218.0 755.8h0M1218.7 750.4h0M1219.3 750.1h0M1219.9 749.8h0M1220.5 745.4h0M1221.1 743.9h0M1221.8 743.4h0M1222.4 741.5h0M1223.0 738.1h0M1223.6 733.0h0M1224.3 730.7h0M1224.9 728.3h0M1225.5 724.8h0M1226.1 721.6h0M1226.7 722.9h0M1227.4 717.5h0M1228.0 715.6h0M1228.6 713.6h0M1229.2 710.0h0M1229.9 706.8h0M1230.5 704.5h0M1231.1 704.2h0M1231.7 700.3h0M1232.3 694.0h0M1233.0 697.3h0M1233.6 696.6h0M1234.2 691.6h0M1234.8 689.7h0M1235.5 688.7h0M1236.1 690.6h0M1236.7 686.0h0M1237.3 688.7h0M1237.9 689.1h0M1238.6 688.1h0M1239.2 687.5h0M1239.8 686.5h0M1240.4 687.3h0M1241.1 689.4h0M1241.7 688.9h0M1242.3 691.8h0M1242.9 691.9h0M1243.5 697.7h0M1244.2 699.9h0M1244.8 697.9h0M1245.4 703.8h0M1246.0 704.3h0M1246.7 706.4h0M1247.3 709.6h0M1247.9 712.1h0M1248.5 711.9h0M1249.1 720.6h0M1249.8 718.2h0M1250.4 718.8h0M1251.0 725.0h0M1251.6 727.8h0M1252.3 729.4h0M1252.9 730.6h0M1253.5 737.4h0M1254.1 738.3h0M1254.7 741.2h0M1255.4 742.7h0M1256.0 745.6h0M1256.6 747.3h0M1257.2 750.8h0M1257.9 752.4h0M1258.5 755.3h0M1259.1 757.3h0M1259.7 758.6h0M1260.3 760.4h0M1261.0 763.1h0M1261.6 762.0h0M1262.2 765.2h0M1262.8 767.8h0M1263.5 766.8h0M1264.1 769.7h0M1264.7 769.8h0M1265.3 771.3h0M1265.9 772.1h0M1266.6 773.1h0M1267.2 774.6h0M1267.8 774.9h0M1268.4 774.0h0M1269.1 778.1h0M1269.7 776.9h0M1270.3 777.2h0M1270.9 778.8h0M1271.5 779.5h0M1272.2 777.4h0M1272.8 779.6h0M1273.4 778.3h0M1274.0 779.7h0M1274.7 780.3h0M1275.3 780.3h0M1275.9 780.5h0M1276.5 780.3h0M1277.1 781.0h0M1277.8 781.4h0M1278.4 781.6h0M1279.0 781.0h0M1279.6 781.4h0M1280.3 782.8h0M1280.9 782.7h0M1281.5 782.1h0M1282.1 782.9h0M1282.7 782.8h0M1283.4 783.2h0M1284.0 782.9h0M1284.6 782.5h0M1285.2 782.2h0M1285.9 782.9h0M1286.5 781.6h0M1287.1 783.1h0M1287.7 781.1h0M1288.3 782.5h0M1289.0 782.9h0M1289.6 783.5h0M1290.2 785.0h0M1290.8 783.4h0M1291.5 783.2h0M1292.1 782.2h0M1292.7 784.3h0M1293.3 782.3h0M1293.9 783.7h0M1294.6 783.1h0M1295.2 785.1h0M1295.8 783.5h0M1296.4 783.8h0M1297.1 783.2h0M1297.7 783.6h0M1298.3 784.4h0M1298.9 783.1h0M1299.5 783.3h0M1300.2 783.4h0M1300.8 783.2h0M1301.4 783.2h0M1302.0 783.9h0M1302.7 784.7h0M1303.3 784.8h0M1303.9 783.1h0M1304.5 783.5h0M1305.1 783.9h0M1305.8 784.3h0M1306.4 784.0h0M1307.0 784.0h0M1307.6 784.3h0M1308.3 784.5h0M1308.9 782.8h0M1309.5 784.0h0M1310.1 784.5h0M1310.7 784.9h0M1311.4 784.6h0M1312.0 783.8h0M1312.6 783.7h0M1313.2 784.4h0M1313.9 784.2h0M1314.5 784.4h0M1315.1 784.9h0M1315.7 783.5h0M1316.3 784.1h0M1317.0 782.8h0M1317.6 784.8h0M1318.2 784.4h0M1318.8 783.8h0M1319.5 784.5h0M1320.1 785.2h0M1320.7 785.0h0M1321.3 784.4h0M1321.9 784.2h0M1322.6 784.5h0M1323.2 783.9h0M1323.8 783.9h0M1324.4 784.3h0M1325.1 784.5h0M1325.7 784.7h0M1326.3 784.2h0M1326.9 784.0h0M1327.5 784.5h0M1328.2 784.3h0M1328.8 784.8h0M1329.4 785.4h0M1330.0 785.2h0M1330.7 784.2h0M1331.3 784.4h0M1331.9 783.7h0M1332.5 784.6h0M1333.1 784.2h0M1333.8 783.9h0M1334.4 784.1h0M1335.0 785.1h0M1335.6 784.8h0M1336.3 784.6h0M1336.9 785.3h0M1337.5 784.5h0M1338.1 784.1h0M1338.7 785.1h0M1339.4 783.6h0M1340.0 785.0h0M1340.6 784.9h0M1341.2 784.9h0M1341.9 785.2h0M1342.5 784.6h0M1343.1 784.8h0M1343.7 783.9h0M1344.3 784.5h0M1345.0 784.5h0M1345.6 785.0h0M1346.2 785.7h0M1346.8 784.9h0M1347.5 785.4h0M1348.1 784.3h0M1348.7 784.9h0M1349.3 783.9h0M1349.9 784.5h0M1350.6 784.5h0M1351.2 784.8h0M1351.8 784.8h0M1352.4 784.6h0M1353.1 784.4h0M1353.7 785.4h0M1354.3 784.7h0M1354.9 783.5h0M1355.5 785.1h0M1356.2 785.2h0M1356.8 785.4h0M1357.4 785.9h0M1358.0 784.4h0M1358.7 785.0h0M1359.3 784.9h0M1359.9 784.0h0M1360.5 783.6h0M1361.1 785.6h0M1361.8 784.5h0M1362.4 784.7h0M1363.0 784.9h0M1363.6 784.8h0M1364.3 785.1h0M1364.9 784.2h0M1365.5 784.8h0M1366.1 785.0h0M1366.7 784.4h0M1367.4 784.6h0M1368.0 784.9h0M1368.6 785.0h0M1369.2 784.2h0M1369.9 784.9h0M1370.5 785.3h0M1371.1 785.7h0M1371.7 785.4h0M1372.3 785.8h0M1373.0 785.2h0M1373.6 785.1h0M1374.2 786.4h0M1374.8 785.2h0M1375.5 784.9h0M1376.1 785.2h0M1376.7 785.8h0M1377.3 784.5h0M1377.9 785.7h0M1378.6 786.0h0M1379.2 785.9h0M1379.8 785.3h0M1380.4 784.8h0M1381.1 784.7h0M1381.7 785.2h0M1382.3 786.0h0M1382.9 785.7h0M1383.5 785.9h0M1384.2 785.5h0M1384.8 786.4h0M1385.4 785.3h0M1386.0 785.0h0M1386.7 785.5h0M1387.3 785.1h0M1387.9 785.9h0M1388.5 786.3h0M1389.1 785.8h0M1389.8 784.8h0M1390.4 784.8h0M1391.0 785.7h0M1391.6 784.7h0M1392.3 785.6h0M1392.9 784.6h0M1393.5 785.2h0M1394.1 785.7h0M1394.7 785.0h0M1395.4 785.9h0M1396.0 786.0h0M1396.6 786.3h0M1397.2 785.4h0M1397.9 785.5h0M1398.5 785.6h0M1399.1 785.8h0M1399.7 784.7h0M1400.3 785.8h0M1401.0 786.0h0M1401.6 784.8h0M1402.2 784.7h0M1402.8 785.4h0M1403.5 786.6h0M1404.1 785.9h0M1404.7 785.2h0M1405.3 785.6h0M1405.9 784.7h0M1406.6 786.4h0M1407.2 785.2h0M1407.8 786.0h0M1408.4 784.9h0M1409.1 785.7h0M1409.7 785.0h0M1410.3 786.0h0M1410.9 786.4h0M1411.5 786.3h0M1412.2 786.0h0M1412.8 786.2h0M1413.4 785.0h0M1414.0 784.9h0M1414.7 785.5h0M1415.3 786.3h0M1415.9 785.8h0M1416.5 786.1h0M1417.1 784.9h0M1417.8 785.5h0M1418.4 785.4h0M1419.0 785.9h0M1419.6 786.9h0M1420.3 786.2h0M1420.9 786.4h0M1421.5 785.5h0"/>
</g>
<g stroke="#EC1C24" stroke-width="3.4" fill="none">
<path d="M429.6 535.0L431.0 888.5"/>
<path d="M566.0 185.0L566.6 888.5"/>
<path d="M753.4 606.0L754.6 888.5"/>
<path d="M1012.0 662.5L1013.4 888.5"/>
<path d="M1101.2 554.5L1101.2 888.5"/>
<path d="M1239.4 508.0L1239.4 888.5"/>
</g>
<g fill="#000" shape-rendering="crispEdges">
<rect x="300" y="61" width="3" height="829"/>
<rect x="1420" y="61" width="3" height="829"/>
<rect x="300" y="61" width="1123" height="4"/>
<rect x="300" y="887" width="1123" height="3"/>
</g>
<g font-size="50.4" fill="#000">
<text x="273.8" y="811.9" text-anchor="end">0</text>
<text x="273.8" y="628.4" text-anchor="end">100,000</text>
<text x="273.8" y="445.0" text-anchor="end">200,000</text>
<text x="273.8" y="261.5" text-anchor="end">300,000</text>
<text x="273.8" y="78.1" text-anchor="end">400,000</text>
<text x="425.1" y="954" text-anchor="middle">30</text>
<text x="674.0" y="954" text-anchor="middle">40</text>
<text x="922.9" y="954" text-anchor="middle">50</text>
<text x="1171.8" y="954" text-anchor="middle">60</text>
<text x="1420.7" y="954" text-anchor="middle">70</text>
</g>
<text x="861" y="1028" font-size="47.5" text-anchor="middle">Angle (2θ)</text>
<text transform="translate(62.6 456.4) rotate(-90)" font-size="51.1" text-anchor="middle">Intensity (A.U.)</text>
<g font-size="36.6">
<text x="392.0" y="489.6">[222]</text>
<text x="529.5" y="139.6">[311]</text>
<text x="710.8" y="554.5">[400]</text>
<text x="961.4" y="601.5">[422]</text>
<text x="1054.2" y="492.8">[511]</text>
<text x="1187.8" y="445.0">[440]</text>
</g>
<rect x="1069" y="142.7" width="242" height="114" fill="#000"/>
<rect x="1057.7" y="131.5" width="242" height="113.8" fill="#fff" stroke="#000" stroke-width="1.2"/>
<circle cx="1110.9" cy="162" r="5.5" fill="#0B5084"/>
<circle cx="1110.9" cy="216.2" r="5.5" fill="#149647"/>
<text x="1170.0" y="176.3" font-size="42.7" fill="#0B5084">4.4nm</text>
<text x="1170.0" y="230.2" font-size="42.7" fill="#149647">8.9nm</text>
</svg>
</body></html>
